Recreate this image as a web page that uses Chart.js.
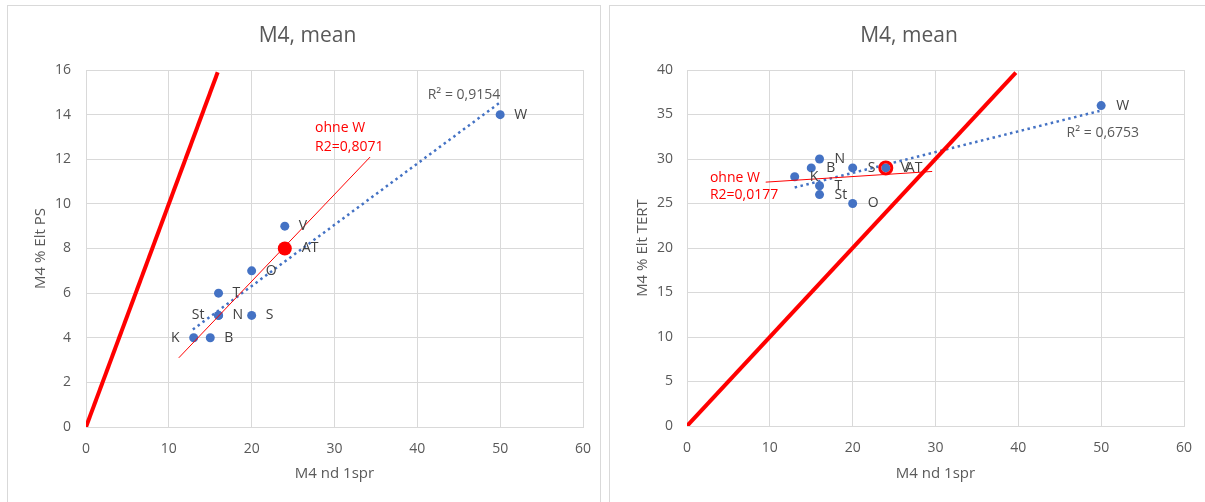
<!DOCTYPE html>
<html>
<head>
<meta charset="utf-8">
<script src="https://cdn.jsdelivr.net/npm/chart.js@4.4.1/dist/chart.umd.min.js"></script>
<style>
  body { margin: 0; background: #fff; width: 1205px; height: 502px; overflow: hidden; position: relative; }
  .box { position: absolute; top: 5px; height: 510px; border: 1px solid #d9d9d9; box-sizing: border-box; }
  #boxPS { left: 7px; width: 594px; }
  #boxTERT { left: 609px; width: 610px; }
  canvas { position: absolute; top: 0; left: 0; }
</style>
</head>
<body>
<div class="box" id="boxPS"><canvas id="chartPS" width="591" height="490"></canvas></div>
<div class="box" id="boxTERT"><canvas id="chartTERT" width="595" height="490"></canvas></div>
<script>
// Points
const names = ['K', 'B', 'St', 'N', 'S', 'T', 'O', 'V', 'W'];
const nd1spr = [13, 15, 16, 16, 20, 16, 20, 24, 50];
const eltPS = [4, 4, 5, 5, 5, 6, 7, 9, 14];
const eltTERT = [28, 29, 26, 30, 29, 27, 25, 29, 36];

// Mean point "AT"
const atName = ['AT'];
const atX = [24];
const atPS = [8];
const atTERT = [29];

// Line end points (x, y)
const diagPSx = [0, 15.9], diagPSy = [0, 15.9];
const diagTERTx = [0, 39.7], diagTERTy = [0, 39.7];
const trendPSx = [12.9, 50], trendPSy = [4.37, 14.55];
const trendTERTx = [13, 49.8], trendTERTy = [26.8, 35.4];
const ohneWPSx = [11.2, 34.3], ohneWPSy = [3.1, 12.1];
const ohneWTERTx = [9.5, 29.6], ohneWTERTy = [27.4, 28.6];

const xTicks = [0, 10, 20, 30, 40, 50, 60];

const FONT = '"Open Sans", "Liberation Sans", sans-serif';
const GRAY = '#595959';
const BLUE = '#4472C4';
const RED = '#FF0000';

const toXY = (xs, ys) => xs.map((x, i) => ({ x: x, y: ys[i] }));

// draws the data labels next to the points and the free text notes
const pointLabels = {
    id: 'pointLabels',
    afterDatasetsDraw(chart, args, opts) {
        const ctx = chart.ctx;
        ctx.save();
        ctx.font = '14px ' + FONT;
        ctx.textBaseline = 'middle';
        ctx.fillStyle = '#404040';
        chart.data.datasets.forEach((ds, i) => {
            if (!ds.labels) return;
            const gap = ds.labelGap || 14;
            chart.getDatasetMeta(i).data.forEach((pt, j) => {
                const left = ds.labelSide && ds.labelSide[j] === 'left';
                ctx.textAlign = left ? 'right' : 'left';
                ctx.fillText(ds.labels[j], left ? pt.x - gap : pt.x + gap, pt.y);
            });
        });
        const xs = chart.scales.x, ys = chart.scales.y;
        (opts.notes || []).forEach(n => {
            ctx.fillStyle = n.color;
            ctx.textAlign = n.align;
            ctx.fillText(n.text, xs.getPixelForValue(n.x), ys.getPixelForValue(n.y));
        });
        ctx.restore();
    }
};

// keep the plot area where the layout padding puts it
function noEdgePadding(s) {
    s.paddingLeft = 0;
    s.paddingRight = 0;
    s.paddingTop = 0;
    s.paddingBottom = 0;
}

function makeChart(id, c) {
    return new Chart(document.getElementById(id), {
        type: 'scatter',
        data: {
            datasets: [
                {
                    // mean point
                    data: toXY(atX, c.atY),
                    labels: atName,
                    labelGap: c.atGap,
                    pointRadius: c.atRadius,
                    pointBackgroundColor: c.atFill,
                    pointBorderColor: RED,
                    pointBorderWidth: c.atBorder
                },
                {
                    // y = x line
                    data: toXY(c.diagX, c.diagY),
                    showLine: true,
                    borderColor: RED,
                    borderWidth: 4,
                    pointRadius: 0
                },
                {
                    // trend without W
                    data: toXY(c.ohneX, c.ohneY),
                    showLine: true,
                    borderColor: RED,
                    borderWidth: 1,
                    pointRadius: 0
                },
                {
                    // trend over all points
                    data: toXY(c.trendX, c.trendY),
                    showLine: true,
                    borderColor: BLUE,
                    borderWidth: 2.5,
                    borderDash: [2.5, 3.5],
                    pointRadius: 0
                },
                {
                    data: toXY(nd1spr, c.yVals),
                    labels: names,
                    labelSide: c.sides,
                    labelGap: c.labelGap,
                    pointRadius: 4.5,
                    pointBackgroundColor: BLUE,
                    pointBorderColor: BLUE,
                    pointBorderWidth: 0
                }
            ]
        },
        options: {
            responsive: false,
            animation: false,
            layout: { padding: { left: 24, right: c.padRight, top: 0, bottom: 0 } },
            plugins: {
                legend: { display: false },
                tooltip: { enabled: false },
                title: {
                    display: true,
                    text: 'M4, mean',
                    color: GRAY,
                    font: { family: FONT, size: 21, weight: 'normal' },
                    padding: { top: 17.4, bottom: 21.4 }
                },
                pointLabels: { notes: c.notes }
            },
            scales: {
                x: {
                    type: 'linear',
                    min: 0,
                    max: 60,
                    afterBuildTicks: s => { s.ticks = xTicks.map(v => ({ value: v })); },
                    ticks: { color: GRAY, padding: 14, font: { family: FONT, size: 14 } },
                    grid: { color: '#d9d9d9', drawTicks: false },
                    border: { color: '#d9d9d9' },
                    title: {
                        display: true,
                        text: 'M4 nd 1spr',
                        color: GRAY,
                        font: { family: FONT, size: 15 },
                        padding: { top: 0, bottom: 13 }
                    },
                    afterFit: s => { s.height = c.xHeight; noEdgePadding(s); }
                },
                y: {
                    min: 0,
                    max: c.yMax,
                    ticks: { stepSize: c.yStep, color: GRAY, padding: c.yPad, font: { family: FONT, size: 14 } },
                    grid: { color: '#d9d9d9', drawTicks: false },
                    border: { color: '#d9d9d9' },
                    title: {
                        display: true,
                        text: c.yTitle,
                        color: GRAY,
                        font: { family: FONT, size: 15 },
                        padding: { top: 0, bottom: 0 }
                    },
                    afterFit: s => { s.width = c.yWidth; noEdgePadding(s); }
                }
            }
        },
        plugins: [pointLabels]
    });
}

makeChart('chartPS', {
    yVals: eltPS,
    atY: atPS,
    atRadius: 7,
    atFill: RED,
    atBorder: 0,
    atGap: 17,
    diagX: diagPSx, diagY: diagPSy,
    ohneX: ohneWPSx, ohneY: ohneWPSy,
    trendX: trendPSx, trendY: trendPSy,
    sides: ['left', 'right', 'left', 'right', 'right', 'right', 'right', 'right', 'right'],
    labelGap: 14,
    yMax: 16, yStep: 2, yTitle: 'M4 % Elt PS',
    yPad: 15, yWidth: 54, xHeight: 69, padRight: 16,
    notes: [
        { text: 'R² = 0,9154', x: 50, y: 14.88, align: 'right', color: GRAY },
        { text: 'ohne W', x: 27.66, y: 13.42, align: 'left', color: RED },
        { text: 'R2=0,8071', x: 27.66, y: 12.55, align: 'left', color: RED }
    ]
});

makeChart('chartTERT', {
    yVals: eltTERT,
    atY: atTERT,
    atRadius: 6,
    atFill: 'rgba(0,0,0,0)',
    atBorder: 3,
    atGap: 20,
    diagX: diagTERTx, diagY: diagTERTy,
    ohneX: ohneWTERTx, ohneY: ohneWTERTy,
    trendX: trendTERTx, trendY: trendTERTy,
    sides: null,
    labelGap: 15,
    yMax: 40, yStep: 5, yTitle: 'M4 % Elt TERT',
    yPad: 14, yWidth: 53, xHeight: 70, padRight: 21,
    notes: [
        { text: 'R² = 0,6753', x: 50.2, y: 32.9, align: 'center', color: GRAY },
        { text: 'ohne W', x: 2.77, y: 27.9, align: 'left', color: RED },
        { text: 'R2=0,0177', x: 2.77, y: 25.9, align: 'left', color: RED }
    ]
});
</script>
</body>
</html>
